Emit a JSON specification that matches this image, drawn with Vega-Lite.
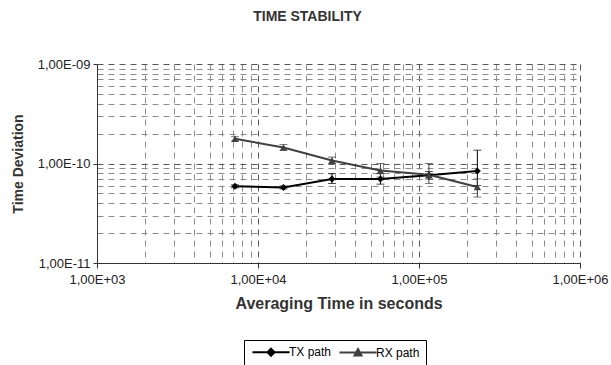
{
  "$schema": "https://vega.github.io/schema/vega-lite/v6.json",
  "width": 483,
  "height": 199,
  "autosize": {"type": "none"},
  "padding": {"left": 97, "top": 64, "right": 31, "bottom": 102},
  "background": "white",
  "config": {
    "view": {"stroke": null},
    "font": "Liberation Sans"
  },
  "title": {
    "text": "TIME STABILITY",
    "font": "Liberation Sans",
    "fontSize": 14,
    "fontWeight": "bold",
    "color": "#333333",
    "anchor": "middle",
    "frame": "group",
    "dx": -31,
    "offset": 34
  },
  "data": {
    "values": [
      {"series": "TX path", "t": 7200, "v": 5.9e-11, "lo": 5.7e-11, "hi": 6.1e-11},
      {"series": "TX path", "t": 14400, "v": 5.75e-11, "lo": 5.55e-11, "hi": 5.95e-11},
      {"series": "TX path", "t": 28800, "v": 7.0e-11, "lo": 6.3e-11, "hi": 7.9e-11},
      {"series": "TX path", "t": 57600, "v": 7.0e-11, "lo": 6.2e-11, "hi": 7.9e-11},
      {"series": "TX path", "t": 115200, "v": 7.6e-11, "lo": 7.0e-11, "hi": 8.3e-11},
      {"series": "TX path", "t": 230400, "v": 8.4e-11, "lo": 6.0e-11, "hi": 1.36e-10},
      {"series": "RX path", "t": 7200, "v": 1.77e-10, "lo": 1.68e-10, "hi": 1.86e-10},
      {"series": "RX path", "t": 14400, "v": 1.45e-10, "lo": 1.36e-10, "hi": 1.55e-10},
      {"series": "RX path", "t": 28800, "v": 1.07e-10, "lo": 1.0e-10, "hi": 1.16e-10},
      {"series": "RX path", "t": 57600, "v": 8.5e-11, "lo": 7.3e-11, "hi": 1.0e-10},
      {"series": "RX path", "t": 115200, "v": 7.7e-11, "lo": 6.3e-11, "hi": 1.0e-10},
      {"series": "RX path", "t": 230400, "v": 5.8e-11, "lo": 4.6e-11, "hi": 7.0e-11}
    ]
  },
  "layer": [
    {
      "mark": {"type": "line", "strokeWidth": 2},
      "encoding": {
        "x": {
          "field": "t", "type": "quantitative",
          "scale": {"type": "log", "domain": [1000, 1000000], "nice": false},
          "axis": {
            "title": "Averaging Time in seconds",
            "values": [1000, 2000, 3000, 4000, 5000, 6000, 7000, 8000, 9000, 10000, 20000, 30000, 40000, 50000, 60000, 70000, 80000, 90000, 100000, 200000, 300000, 400000, 500000, 600000, 700000, 800000, 900000, 1000000],
            "labelExpr": "abs(log(datum.value)/LN10 - round(log(datum.value)/LN10)) < 0.001 ? '1,00E' + (round(log(datum.value)/LN10) < 0 ? '-' : '+') + (abs(round(log(datum.value)/LN10)) < 10 ? '0' : '') + abs(round(log(datum.value)/LN10)) : ''",
            "grid": true,
            "gridDash": [6, 5],
            "gridColor": {"condition": {"test": "abs(log(datum.value)/LN10 - round(log(datum.value)/LN10)) < 0.001", "value": "#555555"}, "value": "#8c8c8c"},
            "gridWidth": 1,
            "ticks": true,
            "tickSize": 5,
            "tickColor": {"condition": {"test": "abs(log(datum.value)/LN10 - round(log(datum.value)/LN10)) < 0.001", "value": "#333333"}, "value": "transparent"},
            "domainColor": "#333333",
            "labelFont": "Liberation Sans",
            "labelFontSize": 13,
            "labelColor": "#222222",
            "labelFlush": false,
            "labelOverlap": false,
            "labelPadding": 5,
            "titleFont": "Liberation Sans",
            "titleFontSize": 16,
            "titleFontWeight": "bold",
            "titleColor": "#333333",
            "titlePadding": 9
          }
        },
        "y": {
          "field": "v", "type": "quantitative",
          "title": "Time Deviation",
          "scale": {"type": "log", "domain": [1e-11, 1e-9], "nice": false},
          "axis": {
            "title": "Time Deviation",
            "values": [1e-11, 2e-11, 3e-11, 4e-11, 5e-11, 6e-11, 7e-11, 8e-11, 9e-11, 1e-10, 2e-10, 3e-10, 4e-10, 5e-10, 6e-10, 7e-10, 8e-10, 9e-10, 1e-9],
            "labelExpr": "abs(log(datum.value)/LN10 - round(log(datum.value)/LN10)) < 0.001 ? '1,00E' + (round(log(datum.value)/LN10) < 0 ? '-' : '+') + (abs(round(log(datum.value)/LN10)) < 10 ? '0' : '') + abs(round(log(datum.value)/LN10)) : ''",
            "grid": true,
            "gridDash": [6, 5],
            "gridColor": {"condition": {"test": "abs(log(datum.value)/LN10 - round(log(datum.value)/LN10)) < 0.001", "value": "#555555"}, "value": "#8c8c8c"},
            "gridWidth": 1,
            "tickSize": 4,
            "tickColor": {"condition": {"test": "abs(log(datum.value)/LN10 - round(log(datum.value)/LN10)) < 0.001", "value": "#333333"}, "value": "transparent"},
            "domainColor": "#333333",
            "labelFont": "Liberation Sans",
            "labelFontSize": 13,
            "labelColor": "#222222",
            "labelFlush": false,
            "labelOverlap": false,
            "labelPadding": 3,
            "titleFont": "Liberation Sans",
            "titleFontSize": 14,
            "titleFontWeight": "bold",
            "titleColor": "#333333",
            "titlePadding": 12
          }
        },
        "color": {
          "field": "series", "type": "nominal",
          "scale": {"domain": ["TX path", "RX path"], "range": ["#000000", "#404040"]},
          "legend": {
            "orient": "none",
            "legendX": 147,
            "legendY": 276,
            "direction": "horizontal",
            "title": null,
            "strokeColor": "#000000",
            "fillColor": "#ffffff",
            "padding": 6,
            "symbolSize": 49,
            "symbolOffset": 15,
            "labelOffset": 12,
            "columnPadding": 3,
            "labelFont": "Liberation Sans",
            "labelFontSize": 12,
            "labelColor": "#000000",
            "symbolStrokeWidth": 2,
            "symbolType": {"expr": "datum.value === 'TX path' ? 'M-5.3,0L5.3,0M0,-1L1,0L0,1L-1,0Z' : 'M-5.3,0L5.3,0M0,-1L1,0.8L-1,0.8Z'"},
            "symbolFillColor": {"expr": "datum.value === 'TX path' ? '#000000' : '#404040'"}
          }
        }
      }
    },
    {
      "mark": {"type": "errorbar", "ticks": {"size": 8}, "thickness": 1},
      "encoding": {
        "x": {"field": "t", "type": "quantitative", "scale": {"type": "log", "domain": [1000, 1000000], "nice": false}},
        "y": {"field": "lo", "type": "quantitative", "title": "Time Deviation", "scale": {"type": "log", "domain": [1e-11, 1e-9], "nice": false}},
        "y2": {"field": "hi", "title": "Time Deviation"},
        "color": {"field": "series", "type": "nominal", "legend": null}
      }
    },
    {
      "transform": [{"filter": "datum.series === 'TX path'"}],
      "mark": {"type": "point", "filled": true, "opacity": 1, "size": 50, "shape": "diamond"},
      "encoding": {
        "x": {"field": "t", "type": "quantitative", "scale": {"type": "log", "domain": [1000, 1000000], "nice": false}},
        "y": {"field": "v", "type": "quantitative", "title": "Time Deviation", "scale": {"type": "log", "domain": [1e-11, 1e-9], "nice": false}},
        "color": {"field": "series", "type": "nominal", "legend": null}
      }
    },
    {
      "transform": [{"filter": "datum.series === 'RX path'"}],
      "mark": {"type": "point", "filled": true, "opacity": 1, "size": 55, "shape": "triangle-up"},
      "encoding": {
        "x": {"field": "t", "type": "quantitative", "scale": {"type": "log", "domain": [1000, 1000000], "nice": false}},
        "y": {"field": "v", "type": "quantitative", "title": "Time Deviation", "scale": {"type": "log", "domain": [1e-11, 1e-9], "nice": false}},
        "color": {"field": "series", "type": "nominal", "legend": null}
      }
    }
  ]
}
